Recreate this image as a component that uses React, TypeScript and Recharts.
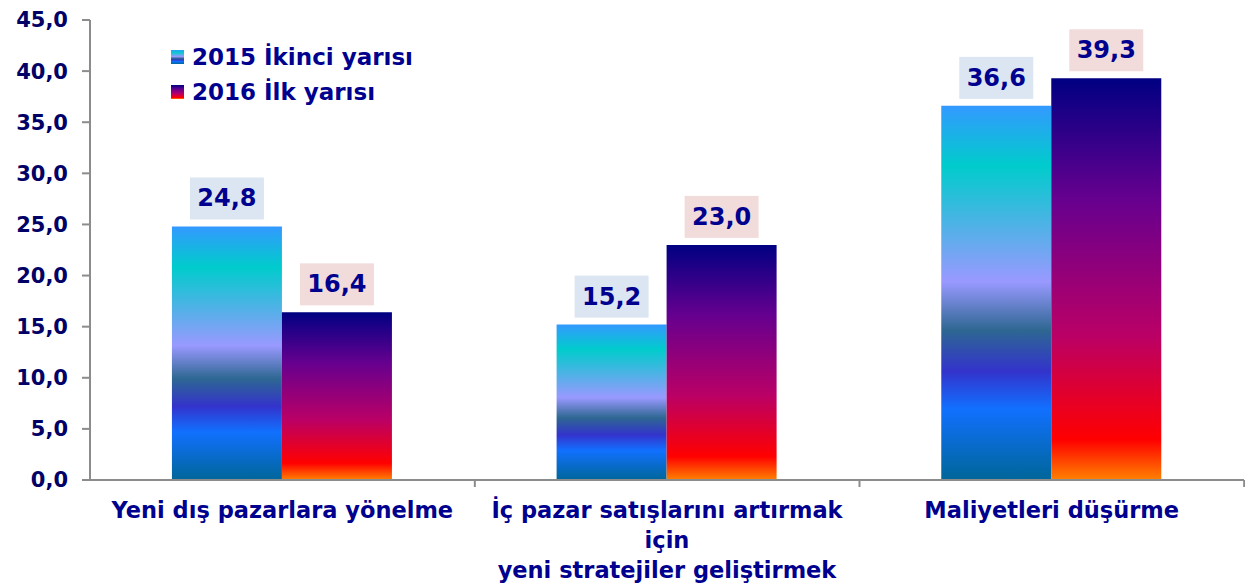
import React from "react";
import {
  BarChart,
  Bar,
  XAxis,
  YAxis,
  LabelList,
} from "recharts";

const CATEGORIES = [
  "Yeni dış pazarlara yönelme",
  "İç pazar satışlarını artırmak\niçin\nyeni stratejiler geliştirmek",
  "Maliyetleri düşürme",
];
const SERIES_2015 = [24.8, 15.2, 36.6];
const SERIES_2016 = [16.4, 23.0, 39.3];
const SERIES_NAMES = ["2015 İkinci yarısı", "2016 İlk yarısı"];
const Y_TICKS = [0, 5, 10, 15, 20, 25, 30, 35, 40, 45];

const data = CATEGORIES.map((name, i) => ({
  name,
  s2015: SERIES_2015[i],
  s2016: SERIES_2016[i],
}));

const W = 1245;
const H = 587;
const LEFT = 90;
const BAND = (W - LEFT) / CATEGORIES.length;

const FONT = "'DejaVu Sans', 'Liberation Sans', Arial, sans-serif";
const NAVY = "#000066";
const BLUE_TXT = "#00008f";

// gradient stops, top -> bottom
const PEACOCK = [
  [0, "#3399ff"],
  [16, "#00cccc"],
  [47, "#9999ff"],
  [60, "#2e6792"],
  [71, "#3333cc"],
  [81, "#1170ff"],
  [100, "#006699"],
];
const SUNSET = [
  [0, "#000082"],
  [30, "#66008f"],
  [64, "#ba0066"],
  [90, "#ff0000"],
  [100, "#ff8200"],
];

const cssGrad = (stops: (string | number)[][]) =>
  `linear-gradient(to bottom, ${stops.map(([o, c]) => `${c} ${o}%`).join(", ")})`;

const fmt = (v: number) => v.toFixed(1).replace(".", ",");

function makeLabel(bg: string) {
  return (props: any) => {
    const { x, y, width, value } = props;
    const cx = x + width / 2;
    const bw = 74;
    const bh = 42;
    const top = y - 7 - bh;
    return (
      <g>
        <rect x={cx - bw / 2} y={top} width={bw} height={bh} fill={bg} />
        <text
          x={cx}
          y={top + bh / 2}
          textAnchor="middle"
          dominantBaseline="central"
          fill={BLUE_TXT}
          fontSize={24}
          fontWeight="bold"
          fontFamily={FONT}
        >
          {fmt(value)}
        </text>
      </g>
    );
  };
}

function CategoryTick(props: any) {
  const { x, y, payload } = props;
  const lines = String(payload.value).split("\n");
  return (
    <g>
      <line x1={x + BAND / 2} x2={x + BAND / 2} y1={y} y2={y + 7} stroke="#8c8c8c" strokeWidth={2} />
      <text
        x={x}
        y={y}
        textAnchor="middle"
        fill={BLUE_TXT}
        fontSize={22.5}
        fontWeight="bold"
        fontFamily={FONT}
      >
        {lines.map((l, i) => (
          <tspan key={i} x={x} dy={i === 0 ? 38 : 30}>
            {l}
          </tspan>
        ))}
      </text>
    </g>
  );
}

function LegendBox() {
  const items = [
    { name: SERIES_NAMES[0], grad: cssGrad(PEACOCK) },
    { name: SERIES_NAMES[1], grad: cssGrad(SUNSET) },
  ];
  return (
    <div style={{ position: "absolute", left: 171, top: 42, display: "flex", flexDirection: "column", gap: 6 }}>
      {items.map((it) => (
        <div
          key={it.name}
          style={{
            display: "flex",
            alignItems: "center",
            height: 29,
            fontFamily: FONT,
            fontWeight: "bold",
            fontSize: 23,
            color: BLUE_TXT,
            whiteSpace: "nowrap",
          }}
        >
          <span style={{ width: 13, height: 14, background: it.grad, marginRight: 8, display: "inline-block" }} />
          {it.name}
        </div>
      ))}
    </div>
  );
}

export default function App() {
  return (
    <div style={{ position: "relative", width: W, height: H, background: "#fff" }}>
      <style>{"body{margin:0}"}</style>
      <BarChart
        width={W}
        height={H}
        data={data}
        margin={{ top: 20, right: 1, left: 0, bottom: 0 }}
        barCategoryGap="21.3%"
        barGap={0}
      >
        <defs>
          <linearGradient id="g2015" x1="0" y1="0" x2="0" y2="1">
            {PEACOCK.map(([o, c]) => (
              <stop key={o} offset={`${o}%`} stopColor={c as string} />
            ))}
          </linearGradient>
          <linearGradient id="g2016" x1="0" y1="0" x2="0" y2="1">
            {SUNSET.map(([o, c]) => (
              <stop key={o} offset={`${o}%`} stopColor={c as string} />
            ))}
          </linearGradient>
        </defs>
        <XAxis
          dataKey="name"
          height={107}
          interval={0}
          tickLine={false}
          tickSize={0}
          tickMargin={0}
          axisLine={{ stroke: "#8c8c8c", strokeWidth: 2 }}
          tick={<CategoryTick />}
        />
        <YAxis
          width={LEFT}
          domain={[0, 45]}
          ticks={Y_TICKS}
          interval={0}
          tickSize={8}
          tickMargin={14}
          tickFormatter={fmt}
          axisLine={{ stroke: "#8c8c8c", strokeWidth: 2 }}
          tickLine={{ stroke: "#8c8c8c", strokeWidth: 2 }}
          tick={{ fill: NAVY, fontSize: 21, fontWeight: "bold", fontFamily: FONT }}
        />
        <Bar dataKey="s2015" name={SERIES_NAMES[0]} fill="url(#g2015)" isAnimationActive={false}>
          <LabelList dataKey="s2015" content={makeLabel("#dce6f2")} />
        </Bar>
        <Bar dataKey="s2016" name={SERIES_NAMES[1]} fill="url(#g2016)" isAnimationActive={false}>
          <LabelList dataKey="s2016" content={makeLabel("#f2dcdb")} />
        </Bar>
      </BarChart>
      <LegendBox />
    </div>
  );
}
